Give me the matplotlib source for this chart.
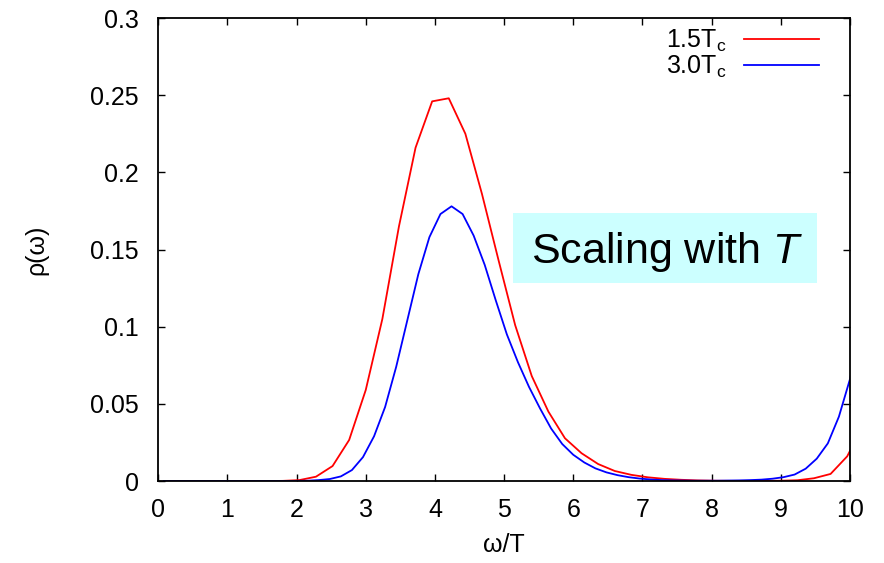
import matplotlib
matplotlib.use('Agg')
import matplotlib.pyplot as plt
import numpy as np
from matplotlib.patches import Rectangle

plt.rcParams['font.family'] = ['Liberation Sans', 'DejaVu Sans']
plt.rcParams['mathtext.fontset'] = 'custom'
plt.rcParams['mathtext.rm'] = 'Liberation Sans'
plt.rcParams['mathtext.it'] = 'Liberation Sans:italic'

# 1.5 Tc, grid step 0.24
w_15 = np.arange(43) * 0.24 + 0.12
rho_15 = [0, 0, 0, 0, 0, 0, 0, 0.0001, 0.0006, 0.0028, 0.0097, 0.0266, 0.059,
          0.105, 0.165, 0.216, 0.246, 0.248, 0.225, 0.186, 0.143, 0.101, 0.068,
          0.045, 0.0277, 0.018, 0.011, 0.0065, 0.004, 0.0024, 0.0014, 0.0008,
          0.0004, 0.0002, 0.0001, 0.0001, 0.0001, 0.0002, 0.0005, 0.0018,
          0.0046, 0.016, 0.037]

# 3.0 Tc, grid step 0.16
w_30 = np.arange(64) * 0.16 + 0.08
rho_30 = [0, 0, 0, 0, 0, 0, 0, 0, 0, 0, 0, 0,
          0.0001, 0.0002, 0.0006, 0.0013, 0.003, 0.0071, 0.0155, 0.029, 0.048,
          0.074, 0.104, 0.134, 0.158, 0.173, 0.178, 0.173, 0.159, 0.140, 0.117,
          0.095, 0.077, 0.061, 0.047, 0.034, 0.024, 0.017, 0.012, 0.0082,
          0.0056, 0.0038, 0.0025, 0.0016, 0.001, 0.0006, 0.0004, 0.0003,
          0.0002, 0.0002, 0.0002, 0.0003, 0.0004, 0.0006, 0.0009, 0.0015,
          0.0025, 0.0042, 0.008, 0.0145, 0.0244, 0.0417, 0.066, 0.10]

fig = plt.figure(figsize=(8.84, 5.63), dpi=100)
ax = fig.add_axes([0.179, 0.1456, 0.7825, 0.8224])

ax.plot(w_15, rho_15, color='#ff0000', linewidth=1.3, label=r'1.5T$_{\rm c}$')
ax.plot(w_30, rho_30, color='#0000ff', linewidth=1.3, label=r'3.0T$_{\rm c}$')

ax.set_xlim(0, 10)
ax.set_ylim(0, 0.3)
ax.set_xticks(range(0, 11))
ax.set_yticks([0, 0.05, 0.1, 0.15, 0.2, 0.25, 0.3])
ax.set_yticklabels(['0', '0.05', '0.1', '0.15', '0.2', '0.25', '0.3'])
ax.tick_params(direction='in', length=5, width=1, top=True, right=True,
               labelsize=18)
ax.tick_params(axis='x', pad=12)
ax.tick_params(axis='y', pad=14)
for s in ax.spines.values():
    s.set_linewidth(1.3)

ax.set_xlabel('ω/T', fontsize=18, labelpad=8)
ax.set_ylabel('ρ(ω)', fontsize=18, labelpad=30)

ax.legend(loc='upper right', frameon=False, markerfirst=False, fontsize=18,
          handlelength=3.0, handletextpad=0.7, labelspacing=0.0,
          borderaxespad=0.0, bbox_to_anchor=(0.97, 1.0))

ax.add_patch(Rectangle((0.513, 0.4276), 0.439, 0.1514, transform=ax.transAxes,
                       facecolor='#ccffff', edgecolor='none', zorder=3))
ax.text(0.736, 0.495, r'Scaling with $T$', transform=ax.transAxes,
        fontsize=31, ha='center', va='center', zorder=4)

fig.savefig('out.png', dpi=100)
